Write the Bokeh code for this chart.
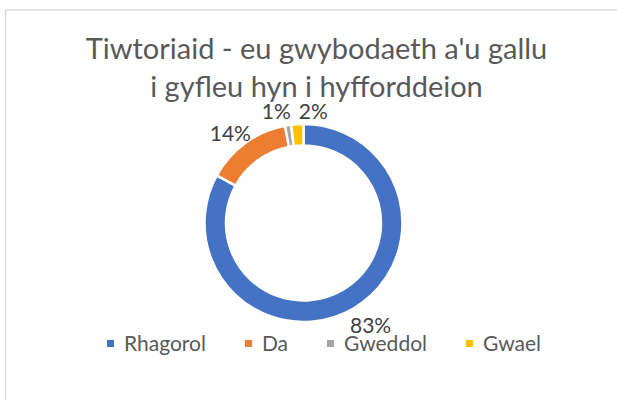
import numpy as np
from bokeh.plotting import figure
from bokeh.models import ColumnDataSource, Legend, LegendItem, Range1d
from bokeh.core.properties import value
from bokeh.embed import file_html
from bokeh.resources import INLINE

# ---- data ----
categories = ["Rhagorol", "Da", "Gweddol", "Gwael"]
percent = [83, 14, 1, 2]
colors = ["#4472C4", "#ED7D31", "#A5A5A5", "#FFC000"]
title_lines = ["Tiwtoriaid - eu gwybodaeth a'u gallu", "i gyfleu hyn i hyfforddeion"]

# ---- layout (pixel-like data space) ----
W, H = 617, 400
cx, cy = 303, 177.5
r_out, r_in = 99, 77.5
r_lab = 116
lab_dx = [8, -5, -9, 17]
lab_dy = [2, 3, 2, 3]

p = figure(width=W, height=H, output_backend="svg", toolbar_location=None,
           x_range=Range1d(0, W), y_range=Range1d(0, H),
           x_axis_type=None, y_axis_type=None, min_border=0,
           outline_line_color=None, background_fill_color="white",
           border_fill_color="white")
p.grid.visible = False

# chart border (only top and left fall inside the view)
p.segment(x0=[5, 5], y0=[0, 390.5], x1=[5, W], y1=[390.5, 390.5],
          line_color="#d9d9d9", line_width=1.5)

frac = np.array(percent, dtype=float) / sum(percent)
cum = np.concatenate([[0.0], np.cumsum(frac)])
start = np.pi / 2 - 2 * np.pi * cum[:-1]
end = np.pi / 2 - 2 * np.pi * cum[1:]
mid = (start + end) / 2

src = ColumnDataSource(dict(x=[cx] * len(percent), y=[cy] * len(percent),
                            start=start, end=end, color=colors, label=categories))
r = p.annular_wedge(x="x", y="y", inner_radius=r_in, outer_radius=r_out,
                    start_angle="start", end_angle="end", direction="clock",
                    fill_color="color", line_color="white", line_width=2.5,
                    source=src)

lab_src = ColumnDataSource(dict(
    x=cx + r_lab * np.cos(mid), y=cy + r_lab * np.sin(mid),
    text=[f"{v}%" for v in percent], dx=lab_dx, dy=lab_dy))
p.text(x="x", y="y", text="text", x_offset="dx", y_offset="dy", source=lab_src,
       text_font=value("Lato"), text_font_size=value("21px"),
       text_color="#404040", text_align="center", text_baseline="middle")

p.text(x=[316, 316], y=[353, 315], text=title_lines,
       text_font=value("Lato"), text_font_size=value("29px"),
       text_color="#595959", text_align="center", text_baseline="alphabetic")

items = [LegendItem(label=c, renderers=[r], index=i) for i, c in enumerate(categories)]
legend = Legend(items=items, orientation="horizontal", location=(104, 45),
                border_line_color=None, background_fill_alpha=0,
                padding=0, margin=0, spacing=36, label_standoff=8,
                glyph_width=12, glyph_height=12,
                label_text_font="Lato", label_text_font_size="21px",
                label_text_color="#595959")
p.add_layout(legend)

open("out.html", "w").write(file_html(p, INLINE))
